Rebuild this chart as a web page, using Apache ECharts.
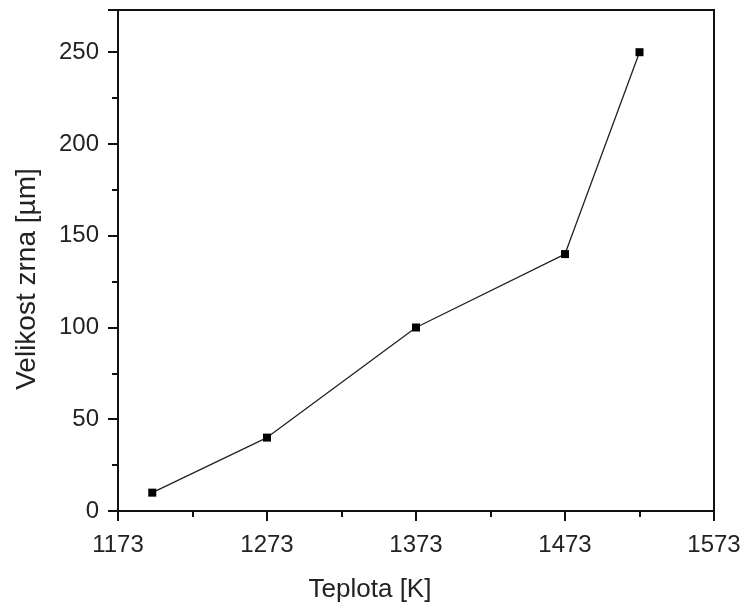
<!DOCTYPE html>
<html>
<head>
<meta charset="utf-8">
<script src="https://cdn.jsdelivr.net/npm/echarts@6/dist/echarts.min.js"></script>
<style>
  html, body { margin: 0; padding: 0; background: #fff; }
  #chart { width: 750px; height: 605px; }
</style>
</head>
<body>
<div id="chart"></div>
<script>
// Grain size versus annealing temperature
const temperatures = [1196, 1273, 1373, 1473, 1523];   // K
const grainSizes = [10, 40, 100, 140, 250];             // µm

const xAxisName = 'Teplota [K]';
const yAxisName = 'Velikost zrna [µm]';

const xMin = 1173, xMax = 1573;
const yMin = 0, yMax = 273;

const FONT = '"Liberation Sans", Arial, sans-serif';
const INK = '#111';

const chart = echarts.init(document.getElementById('chart'), null, { renderer: 'canvas' });

const baseX = {
  type: 'value', min: xMin, max: xMax, position: 'bottom',
  splitLine: { show: false },
  axisLine: { show: true, onZero: false, lineStyle: { color: INK, width: 2 } }
};
const baseY = {
  type: 'value', min: yMin, max: yMax, position: 'left',
  splitLine: { show: false },
  axisLine: { show: true, onZero: false, lineStyle: { color: INK, width: 2 } }
};

chart.setOption({
  animation: false,
  backgroundColor: '#fff',
  grid: {
    left: 118, right: 36, top: 10, bottom: 94,
    show: true, borderColor: INK, borderWidth: 2, backgroundColor: 'transparent'
  },
  xAxis: [
    Object.assign({}, baseX, {
      interval: 100,
      axisTick: { show: true, length: 10, lineStyle: { color: INK, width: 2 } },
      axisLabel: {
        show: true, margin: 22, color: '#222', fontFamily: FONT, fontSize: 24,
        formatter: v => String(Math.round(v))
      }
    }),
    Object.assign({}, baseX, {
      interval: 50,
      axisTick: { show: true, length: 6, lineStyle: { color: INK, width: 2 } },
      axisLabel: { show: false }
    })
  ],
  yAxis: [
    Object.assign({}, baseY, {
      interval: 50,
      axisTick: { show: true, length: 10, lineStyle: { color: INK, width: 2 } },
      axisLabel: {
        show: true, margin: 19, color: '#222', fontFamily: FONT, fontSize: 24,
        formatter: v => (v % 50 === 0 ? String(v) : '')
      }
    }),
    Object.assign({}, baseY, {
      interval: 25,
      axisTick: { show: true, length: 6, lineStyle: { color: INK, width: 2 } },
      axisLabel: { show: false }
    })
  ],
  graphic: [
    {
      type: 'text', x: 370, y: 590,
      style: {
        text: xAxisName, fill: '#222', font: '26px ' + FONT,
        textAlign: 'center', textVerticalAlign: 'middle'
      }
    },
    {
      type: 'text', x: 27, y: 279, rotation: Math.PI / 2,
      style: {
        text: yAxisName, fill: '#222', font: '28px ' + FONT,
        textAlign: 'center', textVerticalAlign: 'middle'
      }
    }
  ],
  series: [{
    type: 'line',
    xAxisIndex: 0, yAxisIndex: 0,
    data: temperatures.map((t, i) => [t, grainSizes[i]]),
    symbol: 'rect', symbolSize: 8,
    itemStyle: { color: '#000' },
    lineStyle: { color: '#222', width: 1.3 },
    z: 5
  }]
});
</script>
</body>
</html>
